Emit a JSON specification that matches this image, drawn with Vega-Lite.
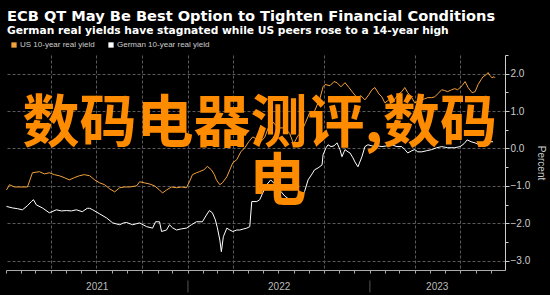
{
  "$schema": "https://vega.github.io/schema/vega-lite/v6.json",
  "width": 499,
  "height": 215,
  "autosize": {"type": "none"},
  "padding": {"left": 6, "top": 55, "right": 45, "bottom": 25},
  "background": "#000000",
  "config": {"view": {"stroke": null}, "font": "Liberation Sans"},
  "title": {
    "text": "ECB QT May Be Best Option to Tighten Financial Conditions",
    "subtitle": "German real yields have stagnated while US peers rose to a 14-year high",
    "anchor": "start",
    "frame": "group",
    "color": "#ffffff",
    "subtitleColor": "#ffffff",
    "font": "DejaVu Sans",
    "subtitleFont": "DejaVu Sans",
    "fontSize": 14.6,
    "subtitleFontSize": 10.7,
    "fontWeight": "bold",
    "subtitleFontWeight": "bold",
    "subtitlePadding": 3,
    "offset": 5,
    "dx": 1
  },
  "datasets": {
    "yields": [
      {"date": "2021-01-02", "series": "US 10-year real yield", "value": -1.11},
      {"date": "2021-01-08", "series": "US 10-year real yield", "value": -0.97},
      {"date": "2021-01-18", "series": "US 10-year real yield", "value": -1.03},
      {"date": "2021-01-28", "series": "US 10-year real yield", "value": -1.03},
      {"date": "2021-02-13", "series": "US 10-year real yield", "value": -1.03},
      {"date": "2021-02-23", "series": "US 10-year real yield", "value": -0.65},
      {"date": "2021-03-09", "series": "US 10-year real yield", "value": -0.62},
      {"date": "2021-03-19", "series": "US 10-year real yield", "value": -0.68},
      {"date": "2021-03-29", "series": "US 10-year real yield", "value": -0.65},
      {"date": "2021-04-08", "series": "US 10-year real yield", "value": -0.70},
      {"date": "2021-04-18", "series": "US 10-year real yield", "value": -0.73},
      {"date": "2021-04-28", "series": "US 10-year real yield", "value": -0.78},
      {"date": "2021-05-08", "series": "US 10-year real yield", "value": -0.84},
      {"date": "2021-05-18", "series": "US 10-year real yield", "value": -0.78},
      {"date": "2021-05-28", "series": "US 10-year real yield", "value": -0.73},
      {"date": "2021-06-07", "series": "US 10-year real yield", "value": -0.70},
      {"date": "2021-06-18", "series": "US 10-year real yield", "value": -0.73},
      {"date": "2021-06-28", "series": "US 10-year real yield", "value": -0.84},
      {"date": "2021-07-08", "series": "US 10-year real yield", "value": -0.92},
      {"date": "2021-07-18", "series": "US 10-year real yield", "value": -0.97},
      {"date": "2021-07-28", "series": "US 10-year real yield", "value": -1.08},
      {"date": "2021-08-07", "series": "US 10-year real yield", "value": -1.16},
      {"date": "2021-08-17", "series": "US 10-year real yield", "value": -1.05},
      {"date": "2021-08-27", "series": "US 10-year real yield", "value": -1.03},
      {"date": "2021-09-06", "series": "US 10-year real yield", "value": -1.03},
      {"date": "2021-09-20", "series": "US 10-year real yield", "value": -1.00},
      {"date": "2021-09-26", "series": "US 10-year real yield", "value": -0.89},
      {"date": "2021-10-06", "series": "US 10-year real yield", "value": -0.92},
      {"date": "2021-10-16", "series": "US 10-year real yield", "value": -0.95},
      {"date": "2021-10-26", "series": "US 10-year real yield", "value": -1.00},
      {"date": "2021-11-05", "series": "US 10-year real yield", "value": -1.11},
      {"date": "2021-11-11", "series": "US 10-year real yield", "value": -1.19},
      {"date": "2021-11-19", "series": "US 10-year real yield", "value": -1.11},
      {"date": "2021-11-29", "series": "US 10-year real yield", "value": -1.03},
      {"date": "2021-12-09", "series": "US 10-year real yield", "value": -1.05},
      {"date": "2021-12-19", "series": "US 10-year real yield", "value": -1.03},
      {"date": "2021-12-29", "series": "US 10-year real yield", "value": -1.05},
      {"date": "2022-01-04", "series": "US 10-year real yield", "value": -0.89},
      {"date": "2022-01-10", "series": "US 10-year real yield", "value": -0.70},
      {"date": "2022-01-18", "series": "US 10-year real yield", "value": -0.65},
      {"date": "2022-01-24", "series": "US 10-year real yield", "value": -0.62},
      {"date": "2022-02-02", "series": "US 10-year real yield", "value": -0.57},
      {"date": "2022-02-09", "series": "US 10-year real yield", "value": -0.48},
      {"date": "2022-02-17", "series": "US 10-year real yield", "value": -0.57},
      {"date": "2022-02-23", "series": "US 10-year real yield", "value": -0.70},
      {"date": "2022-02-27", "series": "US 10-year real yield", "value": -0.84},
      {"date": "2022-03-06", "series": "US 10-year real yield", "value": -0.97},
      {"date": "2022-03-11", "series": "US 10-year real yield", "value": -0.92},
      {"date": "2022-03-20", "series": "US 10-year real yield", "value": -0.76},
      {"date": "2022-03-26", "series": "US 10-year real yield", "value": -0.57},
      {"date": "2022-04-01", "series": "US 10-year real yield", "value": -0.38},
      {"date": "2022-04-09", "series": "US 10-year real yield", "value": -0.30},
      {"date": "2022-04-17", "series": "US 10-year real yield", "value": -0.09},
      {"date": "2022-04-25", "series": "US 10-year real yield", "value": 0.02},
      {"date": "2022-05-03", "series": "US 10-year real yield", "value": 0.18},
      {"date": "2022-05-11", "series": "US 10-year real yield", "value": 0.31},
      {"date": "2022-05-19", "series": "US 10-year real yield", "value": 0.25},
      {"date": "2022-05-27", "series": "US 10-year real yield", "value": 0.18},
      {"date": "2022-06-04", "series": "US 10-year real yield", "value": 0.30},
      {"date": "2022-06-12", "series": "US 10-year real yield", "value": 0.58},
      {"date": "2022-06-16", "series": "US 10-year real yield", "value": 0.78},
      {"date": "2022-06-26", "series": "US 10-year real yield", "value": 0.62},
      {"date": "2022-07-04", "series": "US 10-year real yield", "value": 0.55},
      {"date": "2022-07-14", "series": "US 10-year real yield", "value": 0.55},
      {"date": "2022-07-24", "series": "US 10-year real yield", "value": 0.40},
      {"date": "2022-08-01", "series": "US 10-year real yield", "value": 0.12},
      {"date": "2022-08-09", "series": "US 10-year real yield", "value": 0.33},
      {"date": "2022-08-17", "series": "US 10-year real yield", "value": 0.45},
      {"date": "2022-08-25", "series": "US 10-year real yield", "value": 0.70},
      {"date": "2022-09-02", "series": "US 10-year real yield", "value": 0.95},
      {"date": "2022-09-12", "series": "US 10-year real yield", "value": 1.00},
      {"date": "2022-09-23", "series": "US 10-year real yield", "value": 1.35},
      {"date": "2022-09-29", "series": "US 10-year real yield", "value": 1.65},
      {"date": "2022-10-03", "series": "US 10-year real yield", "value": 1.71},
      {"date": "2022-10-13", "series": "US 10-year real yield", "value": 1.68},
      {"date": "2022-10-21", "series": "US 10-year real yield", "value": 1.79},
      {"date": "2022-10-27", "series": "US 10-year real yield", "value": 1.76},
      {"date": "2022-11-04", "series": "US 10-year real yield", "value": 1.65},
      {"date": "2022-11-12", "series": "US 10-year real yield", "value": 1.76},
      {"date": "2022-11-20", "series": "US 10-year real yield", "value": 1.63},
      {"date": "2022-11-28", "series": "US 10-year real yield", "value": 1.49},
      {"date": "2022-12-06", "series": "US 10-year real yield", "value": 1.36},
      {"date": "2022-12-14", "series": "US 10-year real yield", "value": 1.41},
      {"date": "2022-12-22", "series": "US 10-year real yield", "value": 1.30},
      {"date": "2022-12-30", "series": "US 10-year real yield", "value": 1.44},
      {"date": "2023-01-05", "series": "US 10-year real yield", "value": 1.57},
      {"date": "2023-01-11", "series": "US 10-year real yield", "value": 1.63},
      {"date": "2023-01-19", "series": "US 10-year real yield", "value": 1.46},
      {"date": "2023-01-25", "series": "US 10-year real yield", "value": 1.38},
      {"date": "2023-01-31", "series": "US 10-year real yield", "value": 1.22},
      {"date": "2023-02-08", "series": "US 10-year real yield", "value": 1.30},
      {"date": "2023-02-14", "series": "US 10-year real yield", "value": 1.22},
      {"date": "2023-02-22", "series": "US 10-year real yield", "value": 1.36},
      {"date": "2023-02-28", "series": "US 10-year real yield", "value": 1.46},
      {"date": "2023-03-06", "series": "US 10-year real yield", "value": 1.52},
      {"date": "2023-03-12", "series": "US 10-year real yield", "value": 1.63},
      {"date": "2023-03-18", "series": "US 10-year real yield", "value": 1.49},
      {"date": "2023-03-26", "series": "US 10-year real yield", "value": 1.36},
      {"date": "2023-04-01", "series": "US 10-year real yield", "value": 1.22},
      {"date": "2023-04-09", "series": "US 10-year real yield", "value": 1.28},
      {"date": "2023-04-15", "series": "US 10-year real yield", "value": 1.30},
      {"date": "2023-04-21", "series": "US 10-year real yield", "value": 1.33},
      {"date": "2023-04-27", "series": "US 10-year real yield", "value": 1.36},
      {"date": "2023-05-05", "series": "US 10-year real yield", "value": 1.36},
      {"date": "2023-05-11", "series": "US 10-year real yield", "value": 1.38},
      {"date": "2023-05-17", "series": "US 10-year real yield", "value": 1.46},
      {"date": "2023-05-25", "series": "US 10-year real yield", "value": 1.57},
      {"date": "2023-05-31", "series": "US 10-year real yield", "value": 1.55},
      {"date": "2023-06-06", "series": "US 10-year real yield", "value": 1.52},
      {"date": "2023-06-14", "series": "US 10-year real yield", "value": 1.57},
      {"date": "2023-06-20", "series": "US 10-year real yield", "value": 1.60},
      {"date": "2023-06-26", "series": "US 10-year real yield", "value": 1.57},
      {"date": "2023-07-05", "series": "US 10-year real yield", "value": 1.68},
      {"date": "2023-07-11", "series": "US 10-year real yield", "value": 1.79},
      {"date": "2023-07-17", "series": "US 10-year real yield", "value": 1.63},
      {"date": "2023-07-25", "series": "US 10-year real yield", "value": 1.49},
      {"date": "2023-07-31", "series": "US 10-year real yield", "value": 1.52},
      {"date": "2023-08-06", "series": "US 10-year real yield", "value": 1.71},
      {"date": "2023-08-12", "series": "US 10-year real yield", "value": 1.84},
      {"date": "2023-08-16", "series": "US 10-year real yield", "value": 1.92},
      {"date": "2023-08-22", "series": "US 10-year real yield", "value": 1.97},
      {"date": "2023-08-26", "series": "US 10-year real yield", "value": 2.03},
      {"date": "2023-08-30", "series": "US 10-year real yield", "value": 1.95},
      {"date": "2023-09-03", "series": "US 10-year real yield", "value": 1.89},
      {"date": "2023-09-07", "series": "US 10-year real yield", "value": 1.92},
      {"date": "2023-09-09", "series": "US 10-year real yield", "value": 1.89},
      {"date": "2021-01-02", "series": "German 10-year real yield", "value": -1.55},
      {"date": "2021-01-14", "series": "German 10-year real yield", "value": -1.59},
      {"date": "2021-01-24", "series": "German 10-year real yield", "value": -1.61},
      {"date": "2021-02-03", "series": "German 10-year real yield", "value": -1.64},
      {"date": "2021-02-13", "series": "German 10-year real yield", "value": -1.53},
      {"date": "2021-02-21", "series": "German 10-year real yield", "value": -1.42},
      {"date": "2021-02-25", "series": "German 10-year real yield", "value": -1.37},
      {"date": "2021-03-03", "series": "German 10-year real yield", "value": -1.51},
      {"date": "2021-03-15", "series": "German 10-year real yield", "value": -1.59},
      {"date": "2021-03-29", "series": "German 10-year real yield", "value": -1.72},
      {"date": "2021-04-12", "series": "German 10-year real yield", "value": -1.64},
      {"date": "2021-04-22", "series": "German 10-year real yield", "value": -1.67},
      {"date": "2021-05-02", "series": "German 10-year real yield", "value": -1.66},
      {"date": "2021-05-12", "series": "German 10-year real yield", "value": -1.67},
      {"date": "2021-05-22", "series": "German 10-year real yield", "value": -1.64},
      {"date": "2021-06-03", "series": "German 10-year real yield", "value": -1.69},
      {"date": "2021-06-13", "series": "German 10-year real yield", "value": -1.60},
      {"date": "2021-06-18", "series": "German 10-year real yield", "value": -1.60},
      {"date": "2021-06-24", "series": "German 10-year real yield", "value": -1.64},
      {"date": "2021-07-08", "series": "German 10-year real yield", "value": -1.75},
      {"date": "2021-07-22", "series": "German 10-year real yield", "value": -1.86},
      {"date": "2021-08-03", "series": "German 10-year real yield", "value": -1.99},
      {"date": "2021-08-17", "series": "German 10-year real yield", "value": -2.04},
      {"date": "2021-08-25", "series": "German 10-year real yield", "value": -1.99},
      {"date": "2021-08-31", "series": "German 10-year real yield", "value": -1.98},
      {"date": "2021-09-12", "series": "German 10-year real yield", "value": -2.04},
      {"date": "2021-09-26", "series": "German 10-year real yield", "value": -1.99},
      {"date": "2021-10-10", "series": "German 10-year real yield", "value": -2.09},
      {"date": "2021-10-22", "series": "German 10-year real yield", "value": -2.13},
      {"date": "2021-10-28", "series": "German 10-year real yield", "value": -1.96},
      {"date": "2021-11-05", "series": "German 10-year real yield", "value": -1.96},
      {"date": "2021-11-09", "series": "German 10-year real yield", "value": -2.22},
      {"date": "2021-11-19", "series": "German 10-year real yield", "value": -2.18},
      {"date": "2021-11-25", "series": "German 10-year real yield", "value": -2.04},
      {"date": "2021-12-01", "series": "German 10-year real yield", "value": -2.12},
      {"date": "2021-12-09", "series": "German 10-year real yield", "value": -2.18},
      {"date": "2021-12-19", "series": "German 10-year real yield", "value": -2.15},
      {"date": "2021-12-29", "series": "German 10-year real yield", "value": -2.13},
      {"date": "2022-01-08", "series": "German 10-year real yield", "value": -2.04},
      {"date": "2022-01-18", "series": "German 10-year real yield", "value": -1.96},
      {"date": "2022-01-30", "series": "German 10-year real yield", "value": -1.96},
      {"date": "2022-02-07", "series": "German 10-year real yield", "value": -1.78},
      {"date": "2022-02-13", "series": "German 10-year real yield", "value": -1.66},
      {"date": "2022-02-19", "series": "German 10-year real yield", "value": -1.72},
      {"date": "2022-02-25", "series": "German 10-year real yield", "value": -1.91},
      {"date": "2022-03-01", "series": "German 10-year real yield", "value": -2.12},
      {"date": "2022-03-06", "series": "German 10-year real yield", "value": -2.45},
      {"date": "2022-03-09", "series": "German 10-year real yield", "value": -2.76},
      {"date": "2022-03-13", "series": "German 10-year real yield", "value": -2.36},
      {"date": "2022-03-20", "series": "German 10-year real yield", "value": -2.13},
      {"date": "2022-03-26", "series": "German 10-year real yield", "value": -2.18},
      {"date": "2022-04-01", "series": "German 10-year real yield", "value": -2.22},
      {"date": "2022-04-09", "series": "German 10-year real yield", "value": -2.18},
      {"date": "2022-04-15", "series": "German 10-year real yield", "value": -2.18},
      {"date": "2022-04-23", "series": "German 10-year real yield", "value": -2.15},
      {"date": "2022-04-29", "series": "German 10-year real yield", "value": -2.13},
      {"date": "2022-05-05", "series": "German 10-year real yield", "value": -2.09},
      {"date": "2022-05-09", "series": "German 10-year real yield", "value": -1.42},
      {"date": "2022-05-19", "series": "German 10-year real yield", "value": -1.42},
      {"date": "2022-05-25", "series": "German 10-year real yield", "value": -1.37},
      {"date": "2022-05-31", "series": "German 10-year real yield", "value": -1.19},
      {"date": "2022-06-08", "series": "German 10-year real yield", "value": -0.97},
      {"date": "2022-06-16", "series": "German 10-year real yield", "value": -0.84},
      {"date": "2022-06-24", "series": "German 10-year real yield", "value": -0.95},
      {"date": "2022-07-04", "series": "German 10-year real yield", "value": -1.11},
      {"date": "2022-07-14", "series": "German 10-year real yield", "value": -1.27},
      {"date": "2022-07-24", "series": "German 10-year real yield", "value": -1.37},
      {"date": "2022-08-03", "series": "German 10-year real yield", "value": -1.43},
      {"date": "2022-08-13", "series": "German 10-year real yield", "value": -1.37},
      {"date": "2022-08-19", "series": "German 10-year real yield", "value": -1.24},
      {"date": "2022-08-23", "series": "German 10-year real yield", "value": -1.15},
      {"date": "2022-08-30", "series": "German 10-year real yield", "value": -0.84},
      {"date": "2022-09-07", "series": "German 10-year real yield", "value": -0.68},
      {"date": "2022-09-12", "series": "German 10-year real yield", "value": -0.57},
      {"date": "2022-09-19", "series": "German 10-year real yield", "value": -0.52},
      {"date": "2022-09-27", "series": "German 10-year real yield", "value": -0.44},
      {"date": "2022-09-29", "series": "German 10-year real yield", "value": -0.17},
      {"date": "2022-10-05", "series": "German 10-year real yield", "value": 0.02},
      {"date": "2022-10-09", "series": "German 10-year real yield", "value": 0.10},
      {"date": "2022-10-15", "series": "German 10-year real yield", "value": 0.05},
      {"date": "2022-10-21", "series": "German 10-year real yield", "value": 0.07},
      {"date": "2022-10-27", "series": "German 10-year real yield", "value": 0.15},
      {"date": "2022-11-02", "series": "German 10-year real yield", "value": -0.03},
      {"date": "2022-11-06", "series": "German 10-year real yield", "value": -0.22},
      {"date": "2022-11-12", "series": "German 10-year real yield", "value": -0.03},
      {"date": "2022-11-18", "series": "German 10-year real yield", "value": -0.09},
      {"date": "2022-11-22", "series": "German 10-year real yield", "value": -0.12},
      {"date": "2022-11-28", "series": "German 10-year real yield", "value": -0.25},
      {"date": "2022-12-02", "series": "German 10-year real yield", "value": -0.36},
      {"date": "2022-12-08", "series": "German 10-year real yield", "value": -0.49},
      {"date": "2022-12-16", "series": "German 10-year real yield", "value": -0.22},
      {"date": "2022-12-22", "series": "German 10-year real yield", "value": 0.05},
      {"date": "2022-12-28", "series": "German 10-year real yield", "value": 0.10},
      {"date": "2023-01-05", "series": "German 10-year real yield", "value": 0.07},
      {"date": "2023-01-11", "series": "German 10-year real yield", "value": 0.05},
      {"date": "2023-01-17", "series": "German 10-year real yield", "value": 0.07},
      {"date": "2023-01-25", "series": "German 10-year real yield", "value": 0.05},
      {"date": "2023-02-04", "series": "German 10-year real yield", "value": 0.07},
      {"date": "2023-02-14", "series": "German 10-year real yield", "value": 0.10},
      {"date": "2023-02-24", "series": "German 10-year real yield", "value": 0.05},
      {"date": "2023-03-06", "series": "German 10-year real yield", "value": 0.05},
      {"date": "2023-03-12", "series": "German 10-year real yield", "value": -0.03},
      {"date": "2023-03-18", "series": "German 10-year real yield", "value": -0.12},
      {"date": "2023-03-26", "series": "German 10-year real yield", "value": -0.06},
      {"date": "2023-04-01", "series": "German 10-year real yield", "value": -0.03},
      {"date": "2023-04-07", "series": "German 10-year real yield", "value": -0.09},
      {"date": "2023-04-15", "series": "German 10-year real yield", "value": -0.09},
      {"date": "2023-04-25", "series": "German 10-year real yield", "value": -0.06},
      {"date": "2023-05-05", "series": "German 10-year real yield", "value": -0.03},
      {"date": "2023-05-15", "series": "German 10-year real yield", "value": 0.02},
      {"date": "2023-05-25", "series": "German 10-year real yield", "value": 0.05},
      {"date": "2023-06-06", "series": "German 10-year real yield", "value": 0.02},
      {"date": "2023-06-20", "series": "German 10-year real yield", "value": 0.02},
      {"date": "2023-07-01", "series": "German 10-year real yield", "value": 0.05},
      {"date": "2023-07-09", "series": "German 10-year real yield", "value": 0.13},
      {"date": "2023-07-15", "series": "German 10-year real yield", "value": 0.23},
      {"date": "2023-07-23", "series": "German 10-year real yield", "value": 0.18},
      {"date": "2023-07-31", "series": "German 10-year real yield", "value": 0.15},
      {"date": "2023-08-08", "series": "German 10-year real yield", "value": 0.10},
      {"date": "2023-08-14", "series": "German 10-year real yield", "value": 0.10},
      {"date": "2023-08-22", "series": "German 10-year real yield", "value": 0.15},
      {"date": "2023-08-30", "series": "German 10-year real yield", "value": 0.18},
      {"date": "2023-09-05", "series": "German 10-year real yield", "value": 0.18}
    ],
    "separators": [
      {"date": "2022-01-01"},
      {"date": "2023-01-01"}
    ],
    "watermark": [
      {"label": "数码电器测评,数码", "date": "2022-05-25", "value": 0.63},
      {"label": "电", "date": "2022-06-30", "value": -0.92}
    ]
  },
  "resolve": {"axis": {"x": "independent", "y": "independent"}},
  "layer": [
    {
      "data": {"name": "yields"},
      "mark": {"type": "line", "strokeWidth": 1, "interpolate": "linear"},
      "encoding": {
        "x": {
          "field": "date",
          "type": "temporal",
          "scale": {"type": "utc", "domain": [1609459200000, 1695945600000]},
          "axis": {
            "title": null,
            "values": [1609459200000, 1612137600000, 1614556800000, 1617235200000, 1619827200000, 1622505600000, 1625097600000, 1625184000000, 1627776000000, 1630454400000, 1633046400000, 1635724800000, 1638316800000, 1640995200000, 1643673600000, 1646092800000, 1648771200000, 1651363200000, 1654041600000, 1656633600000, 1656720000000, 1659312000000, 1661990400000, 1664582400000, 1667260800000, 1669852800000, 1672531200000, 1675209600000, 1677628800000, 1680307200000, 1682899200000, 1684108800000, 1685577600000, 1688169600000, 1690848000000, 1693526400000],
            "labelExpr": "utcdate(datum.value) == 1 ? '' : utcFormat(datum.value, '%Y')",
            "labelOverlap": false,
            "labelFlush": false,
            "labelBound": false,
            "labelColor": "#bbbbbb",
            "labelFont": "Liberation Sans",
            "labelFontSize": 10,
            "labelPadding": 8,
            "tickSize": 3,
            "tickColor": "#aaaaaa",
            "tickOpacity": {"condition": {"test": "utcdate(datum.value) != 1", "value": 0}, "value": 1},
            "domainColor": "#aaaaaa",
            "grid": true,
            "gridColor": "#5a5a5a",
            "gridDash": [3, 2],
            "gridOpacity": {"condition": {"test": "utcdate(datum.value) == 1 && indexof([202103, 202106, 202109, 202200, 202203, 202209, 202303, 202306], utcyear(datum.value) * 100 + utcmonth(datum.value)) >= 0", "value": 1}, "value": 0}
          }
        },
        "y": {
          "field": "value",
          "type": "quantitative",
          "scale": {"domain": [-3.25, 2.5], "nice": false, "zero": false},
          "axis": {
            "orient": "right",
            "title": "Percent",
            "titleColor": "#cccccc",
            "titleFont": "Liberation Sans",
            "titleFontSize": 10,
            "titleFontWeight": "normal",
            "titlePadding": 6,
            "values": [-3, -2.5, -2, -1.5, -1, -0.5, 0, 0.5, 1, 1.5, 2, 2.5],
            "labelExpr": "datum.value % 1 == 0 ? format(datum.value, '.1f') : ''",
            "labelColor": "#cccccc",
            "labelFont": "Liberation Sans",
            "labelFontSize": 10,
            "labelPadding": 1,
            "labelOverlap": false,
            "labelFlush": false,
            "tickColor": "#cccccc",
            "tickSize": {"condition": {"test": "datum.value % 1 != 0", "value": 3}, "value": 4},
            "domainColor": "#cccccc",
            "grid": true,
            "gridColor": "#5a5a5a",
            "gridDash": [3, 2],
            "gridOpacity": {"condition": {"test": "datum.value % 1 != 0", "value": 0}, "value": 1}
          }
        },
        "color": {
          "field": "series",
          "type": "nominal",
          "scale": {
            "domain": ["US 10-year real yield", "German 10-year real yield"],
            "range": ["#F4A23C", "#FFFFFF"]
          },
          "legend": {
            "orient": "none",
            "legendX": 4,
            "legendY": -14,
            "direction": "horizontal",
            "title": null,
            "symbolType": "square",
            "symbolSize": 28,
            "symbolStrokeWidth": 0,
            "labelColor": "#cccccc",
            "labelFont": "Liberation Sans",
            "labelFontSize": 8,
            "labelOffset": 2,
            "columnPadding": 12,
            "encode": {
              "symbols": {"update": {"fill": {"scale": "color", "field": "value"}, "opacity": {"value": 1}}}
            }
          }
        }
      }
    },
    {
      "data": {"name": "separators"},
      "mark": {"type": "rule", "color": "#555555", "strokeWidth": 1, "clip": false},
      "encoding": {
        "x": {"field": "date", "type": "temporal", "axis": {"title": null, "domain": false, "ticks": false, "labels": false, "grid": false, "minExtent": 0, "maxExtent": 0, "offset": 0}},
        "y": {"datum": -3.53, "axis": {"title": null, "domain": false, "ticks": false, "labels": false, "grid": false, "minExtent": 0, "maxExtent": 0}},
        "y2": {"datum": -3.85}
      }
    },
    {
      "data": {"name": "watermark"},
      "mark": {
        "type": "text",
        "font": "Noto Sans CJK SC",
        "fontSize": 57,
        "fontWeight": "bold",
        "color": "#FF8C00",
        "align": "center",
        "baseline": "middle"
      },
      "encoding": {
        "x": {"field": "date", "type": "temporal", "axis": {"title": null, "domain": false, "ticks": false, "labels": false, "grid": false, "minExtent": 0, "maxExtent": 0}},
        "y": {"field": "value", "type": "quantitative", "axis": {"title": null, "domain": false, "ticks": false, "labels": false, "grid": false, "minExtent": 0, "maxExtent": 0}},
        "text": {"field": "label"}
      }
    }
  ]
}
